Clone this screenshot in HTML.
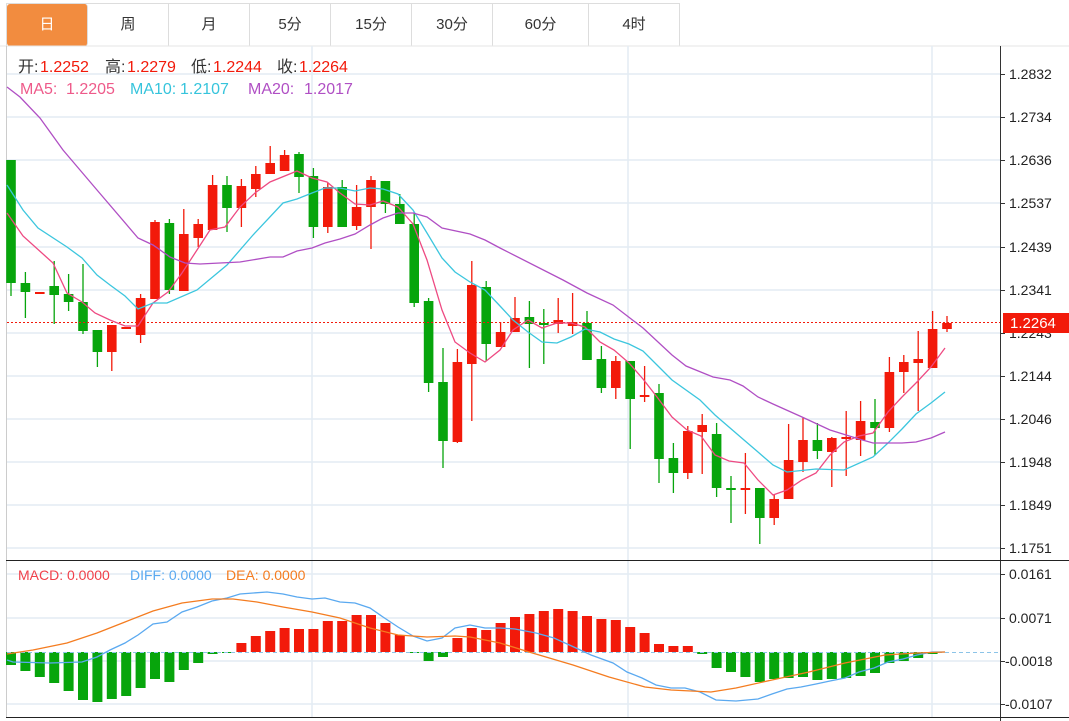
<!DOCTYPE html>
<html><head><meta charset="utf-8">
<style>
html,body{margin:0;padding:0;background:#fff;}
body{width:1069px;height:721px;position:relative;overflow:hidden;font-family:"Liberation Sans","Noto Sans CJK SC",sans-serif;}
.tabs{position:absolute;left:6px;top:3px;height:42px;width:672px;border:1px solid #ddd;border-bottom:none;display:flex;}
.tab{width:81px;height:42px;border-right:1px solid #ddd;box-sizing:border-box;text-align:center;line-height:42px;font-size:15px;color:#333;}
.tab.on{background:#f28c3f;color:#fff;border-radius:3px;width:81px;}
</style></head><body>
<div class="tabs"><div class="tab on">日</div><div class="tab">周</div><div class="tab">月</div><div class="tab">5分</div><div class="tab">15分</div><div class="tab">30分</div><div class="tab" style="width:96px">60分</div><div class="tab" style="width:90px;border-right:none">4时</div></div>
<svg id="s" width="1069" height="721" style="position:absolute;left:0;top:0" font-family="Liberation Sans, Noto Sans CJK SC, sans-serif">
<line x1="0" y1="46" x2="1069" y2="46" stroke="#e6e6e6"/>
<line x1="6.5" y1="46" x2="6.5" y2="718" stroke="#ccc"/>
<g id="grid" stroke="#e3ecf4" stroke-width="1.5"></g>
<line x1="1000.5" y1="46" x2="1000.5" y2="721" stroke="#333"/>
<line x1="6" y1="560.5" x2="1069" y2="560.5" stroke="#222"/>
<line x1="6" y1="717.5" x2="1069" y2="717.5" stroke="#222"/>
<g id="c"></g>
<g font-size="14" fill="#222">
<text x="1009" y="79">1.2832</text><text x="1009" y="122">1.2734</text><text x="1009" y="165">1.2636</text><text x="1009" y="208">1.2537</text><text x="1009" y="252">1.2439</text><text x="1009" y="295">1.2341</text><text x="1009" y="338">1.2243</text><text x="1009" y="381">1.2144</text><text x="1009" y="424">1.2046</text><text x="1009" y="467">1.1948</text><text x="1009" y="510">1.1849</text><text x="1009" y="553">1.1751</text>
<text x="1009" y="579">0.0161</text><text x="1009" y="623">0.0071</text><text x="1005" y="666">-0.0018</text><text x="1005" y="709">-0.0107</text>
</g>
<rect x="1003" y="313" width="66" height="20" fill="#f21a0a"/>
<text x="1010" y="328" font-size="15" fill="#fff">1.2264</text>
<text x="18" y="580" font-size="14" fill="#f0404a">MACD: 0.0000</text>
<text x="130" y="580" font-size="14" fill="#5aa9f0">DIFF: 0.0000</text>
<text x="226" y="580" font-size="14" fill="#f47c20">DEA: 0.0000</text>
<g font-size="16">
<text x="18" y="72" fill="#333">开:</text><text x="40" y="72" fill="#f21a0a">1.2252</text>
<text x="105" y="72" fill="#333">高:</text><text x="127" y="72" fill="#f21a0a">1.2279</text>
<text x="191" y="72" fill="#333">低:</text><text x="213" y="72" fill="#f21a0a">1.2244</text>
<text x="277" y="72" fill="#333">收:</text><text x="299" y="72" fill="#f21a0a">1.2264</text>
<text x="20" y="94" fill="#ee5a8a">MA5:</text><text x="66" y="94" fill="#ee5a8a">1.2205</text>
<text x="130" y="94" fill="#36c4dc">MA10:</text><text x="180" y="94" fill="#36c4dc">1.2107</text>
<text x="248" y="94" fill="#b04fc4">MA20:</text><text x="304" y="94" fill="#b04fc4">1.2017</text>
</g>
</svg>
<script>
var NS="http://www.w3.org/2000/svg";
function el(p,t,a){var e=document.createElementNS(NS,t);for(var k in a)e.setAttribute(k,a[k]);p.appendChild(e);return e;}
var g=document.getElementById('grid'),c=document.getElementById('c');
[74,117,160,203,247,290,333,376,419,462,505,548,574,618,661,704].forEach(function(y){el(g,'line',{x1:7,x2:1000,y1:y,y2:y});el(c,'line',{x1:1000,x2:1005,y1:y+0.5,y2:y+0.5,stroke:'#333'});});
[312,628,932].forEach(function(x){el(g,'line',{x1:x,x2:x,y1:46,y2:717});});
var R='#f21a0a',G='#07a50c';
var d=[[160,283,160,296,'g'],[283,292,272,318,'g'],[292,294,292,294,'r'],[286,295,261,324,'g'],[294,302,274,311,'g'],[302,331,264,334,'g'],[330,352,330,367,'g'],[325,352,325,371,'r'],[327,329,327,329,'r'],[298,335,294,343,'r'],
[222,299,220,299,'r'],[223,290,219,294,'g'],[234,291,209,291,'r'],[224,238,219,247,'r'],[185,230,175,230,'r'],[185,208,176,232,'g'],[186,208,179,227,'r'],[174,189,166,197,'r'],[163,174,146,174,'r'],[155,171,150,171,'r'],
[154,177,152,193,'g'],[176,227,168,238,'g'],[187,227,183,233,'r'],[187,227,180,227,'g'],[207,226,185,230,'r'],[180,207,176,249,'r'],[181,204,181,213,'g'],[204,224,194,224,'g'],[224,303,212,307,'g'],[301,383,298,392,'g'],
[382,441,348,468,'g'],[362,442,349,443,'r'],[285,364,261,421,'r'],[287,344,281,361,'g'],[332,347,322,347,'r'],[318,332,297,332,'r'],[317,324,301,368,'g'],[323,325,309,364,'g'],[320,324,298,333,'r'],[322,326,293,334,'r'],
[323,360,311,360,'g'],[359,388,346,393,'g'],[361,388,356,399,'r'],[361,399,361,449,'g'],[395,397,366,402,'r'],[393,459,384,483,'g'],[458,473,443,493,'g'],[431,473,426,479,'r'],[425,432,414,474,'r'],[434,488,423,497,'g'],
[488,490,476,523,'g'],[488,490,453,514,'r'],[488,518,488,544,'g'],[499,518,494,525,'r'],[460,499,424,499,'r'],[440,462,418,472,'r'],[440,451,423,459,'g'],[438,452,437,487,'r'],[437,439,411,476,'r'],[421,440,401,456,'r'],
[422,428,399,455,'g'],[372,428,357,432,'r'],[362,372,355,393,'r'],[359,363,331,411,'r'],[329,368,311,368,'r'],[323,329,316,332,'r']];
d.forEach(function(v,i){var x=11+14.4*i,col=v[4]=='r'?R:G;
el(c,'line',{x1:x,x2:x,y1:v[2],y2:v[3],stroke:col,'stroke-width':1.3});
el(c,'rect',{x:x-4.8,y:v[0],width:9.6,height:Math.max(1.5,v[1]-v[0]),fill:col});});
var m=[665,671,677,683,691,700,702,699,696,688,679,682,670,663,654,653,643,636,631,628,629,629,621,621,615,615,623,635,653,661,657,638,628,630,623,617,614,611,609,611,616,619,620,627,633,644,646,646,654,668,672,677,682,679,678,677,680,679,678,676,673,663,661,658,654,652];
m.forEach(function(y,i){var x=11+14.4*i,z=652;if(Math.abs(y-z)<1)return;
el(c,'rect',{x:x-5,y:Math.min(y,z),width:10,height:Math.abs(y-z),fill:y<z?R:G});});
el(c,'line',{x1:7,x2:1000,y1:652.5,y2:652.5,stroke:'#8cc4e8','stroke-dasharray':'4,3'});
el(c,'line',{x1:7,x2:1000,y1:322.5,y2:322.5,stroke:'#f21a0a','stroke-dasharray':'2,2'});
function pl(pts,col){el(c,'polyline',{points:pts,fill:'none',stroke:col,'stroke-width':1.3});}
pl("7,213 23,236 53,263 67,293 82,302 95,313 110,320 125,326 138,326 153,303 168,292 182,273 197,250 210,230 225,227 240,207 255,193 270,182 297,171 312,178 327,182 340,193 355,204 370,205 383,201 398,207 413,224 427,260 442,310 455,342 470,353 485,362 500,350 513,330 528,320 542,328 557,323 571,323 585,327 600,342 614,350 629,363 643,379 657,397 672,417 687,430 701,436 715,455 729,461 744,463 758,480 773,495 787,490 802,480 816,473 830,455 844,442 859,436 873,433 888,412 902,397 916,383 931,367 945,348",'#ee4a82');
pl("7,185 23,210 38,228 67,247 82,258 97,275 110,285 125,296 138,309 153,303 167,303 197,290 227,265 253,235 283,203 297,199 312,193 325,188 340,188 355,191 370,188 383,189 398,194 413,210 427,233 442,258 455,272 470,282 485,290 500,306 513,320 528,332 542,342 557,343 571,337 585,329 600,332 614,339 629,344 643,351 657,365 672,380 700,400 715,415 744,440 758,452 773,465 787,472 816,469 844,470 873,457 888,443 902,429 916,414 931,403 945,392",'#3cc6de');
pl("7,87 20,97 40,118 63,150 97,190 138,238 153,245 170,257 185,263 200,264 240,262 270,257 283,257 297,251 312,248 325,243 340,239 355,234 370,225 383,218 398,213 413,213 427,217 442,228 470,234 485,240 500,248 563,280 587,293 613,305 643,328 672,355 686,366 713,377 730,380 743,386 758,397 773,404 802,417 830,430 859,439 873,443 902,443 916,442 931,438 945,432",'#b04fc4');
pl("7,660 13,662 50,663 82,662 97,657 110,650 125,643 138,635 153,624 167,622 182,612 197,607 212,601 227,598 240,594 267,592 283,594 297,597 312,599 325,598 340,602 355,603 370,608 383,617 398,627 413,636 427,641 442,638 455,628 470,625 485,628 500,628 515,629 536,633 554,638 576,648 591,655 613,663 627,672 642,678 656,685 671,688 685,688 700,692 716,700 736,701 758,699 772,694 787,689 801,687 816,684 830,681 845,678 859,672 874,668 888,662 903,659 917,655 932,652 945,652",'#5aa9f0');
pl("7,654 33,650 67,643 97,633 125,622 153,611 182,603 212,599 233,599 257,602 283,607 312,612 340,618 370,628 398,635 427,637 455,636 470,637 500,643 529,652 573,665 609,677 645,687 671,690 711,692 736,688 772,680 809,672 845,663 885,655 917,653 945,652",'#f47c20');
</script>
</body></html>
